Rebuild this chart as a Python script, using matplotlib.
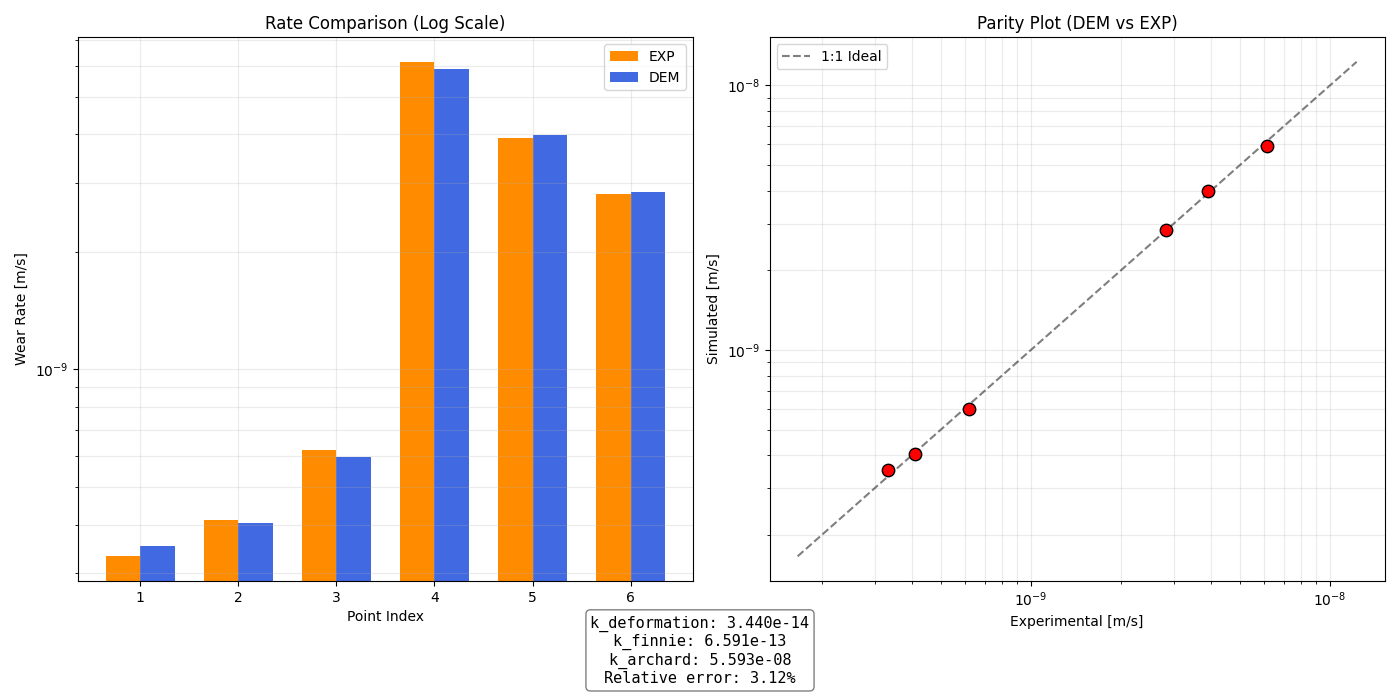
import matplotlib
matplotlib.use("Agg")
import matplotlib.pyplot as plt
import numpy as np

# Wear rates [m/s]
point_idx = [1, 2, 3, 4, 5, 6]
exp_rate = [3.32e-10, 4.11e-10, 6.21e-10, 6.14e-9, 3.92e-9, 2.82e-9]
dem_rate = [3.52e-10, 4.03e-10, 5.96e-10, 5.89e-9, 3.99e-9, 2.85e-9]

info_lines = [
    "k_deformation: 3.440e-14",
    "k_finnie: 6.591e-13",
    "k_archard: 5.593e-08",
    "Relative error: 3.12%",
]

fig, axes = plt.subplots(1, 2, figsize=(14, 7), dpi=100)
plt.subplots_adjust(left=0.0557, right=0.989, top=0.947, bottom=0.17, wspace=0.125)

# Bar comparison
ax = axes[0]
x = np.array(point_idx)
w = 0.35
ax.bar(x - w / 2, exp_rate, w, color="darkorange", label="EXP")
ax.bar(x + w / 2, dem_rate, w, color="royalblue", label="DEM")
ax.set_yscale("log")
ax.set_xticks(x)
ax.set_xlabel("Point Index")
ax.set_ylabel("Wear Rate [m/s]")
ax.set_title("Rate Comparison (Log Scale)")
ax.legend(loc="upper right")
ax.grid(True, which="both", alpha=0.25)

# Parity plot
ax = axes[1]
lo = min(min(exp_rate), min(dem_rate)) * 0.5
hi = max(max(exp_rate), max(dem_rate)) * 2
ax.plot([lo, hi], [lo, hi], "k--", alpha=0.5, label="1:1 Ideal")
ax.scatter(exp_rate, dem_rate, s=80, color="red", edgecolors="black", zorder=3)
ax.set_xscale("log")
ax.set_yscale("log")
ax.set_xlabel("Experimental [m/s]")
ax.set_ylabel("Simulated [m/s]")
ax.set_title("Parity Plot (DEM vs EXP)")
ax.legend(loc="upper left")
ax.grid(True, which="both", alpha=0.25)

fig.text(0.5, 0.07, "\n".join(info_lines), ha="center", va="center",
         fontsize=11, family="monospace",
         bbox=dict(boxstyle="round", facecolor="white", edgecolor="gray"))

plt.savefig("out.png", dpi=100)
